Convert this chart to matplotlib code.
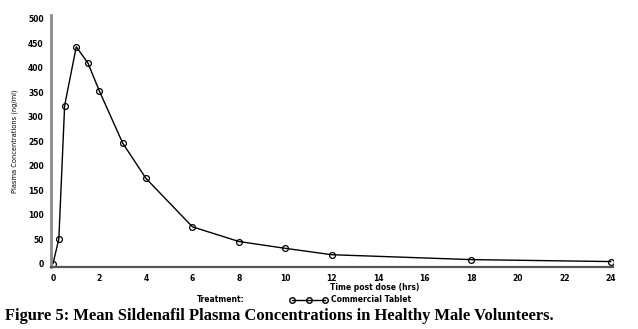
import matplotlib.pyplot as plt

# Mean plasma concentration profile (ng/ml) after a single oral dose
hours = [0, 0.25, 0.5, 1, 1.5, 2, 3, 4, 6, 8, 10, 12, 18, 24]
conc = [0, 50, 323, 443, 410, 352, 246, 174, 75, 45, 31, 18, 8, 4]

x_ticks = list(range(0, 25, 2))
y_ticks = list(range(0, 501, 50))

fig = plt.figure(figsize=(6.38, 3.29), dpi=100)
ax = fig.add_axes([50.7 / 638, 1 - 266.7 / 329, (613 - 50.7) / 638, (266.7 - 15) / 329])

ax.plot(hours, conc, color='black', lw=1.0, marker='o', markersize=4.2,
        markerfacecolor='none', markeredgecolor='black', markeredgewidth=0.9)

ax.set_xlim(-0.1, 24.1)
ax.set_ylim(-6.5, 508)
ax.set_xticks(x_ticks)
ax.set_yticks(y_ticks)
ax.tick_params(length=0, labelsize=5.5, pad=5)
for lab in ax.get_xticklabels() + ax.get_yticklabels():
    lab.set_fontweight('bold')

for side in ['top', 'right']:
    ax.spines[side].set_visible(False)
ax.spines['left'].set_color('#8a8a8a')
ax.spines['left'].set_linewidth(2)
ax.spines['bottom'].set_color('#555555')
ax.spines['bottom'].set_linewidth(1.6)

ax.set_ylabel('Plasma Concentrations (ng/ml)', fontsize=4.8)
ax.yaxis.set_label_coords((18 - 50.7) / 562.3, 0.5)
fig.text(330 / 638, 1 - 287 / 329, 'Time post dose (hrs)', fontsize=5.5,
         fontweight='bold', ha='left', va='center')

# legend row under the axis title
fig.text(245 / 638, 1 - 300 / 329, 'Treatment:', fontsize=5.5,
         fontweight='bold', ha='right', va='center')
fig.lines.append(plt.Line2D([292 / 638, 308.5 / 638, 325 / 638], [1 - 300 / 329] * 3,
                            transform=fig.transFigure, color='black', lw=1.0,
                            marker='o', markersize=4, markerfacecolor='none'))
fig.text(331 / 638, 1 - 300 / 329, 'Commercial Tablet', fontsize=5.5,
         fontweight='bold', ha='left', va='center')

fig.text(5 / 638, 1 - 316 / 329,
         'Figure 5: Mean Sildenafil Plasma Concentrations in Healthy Male Volunteers.',
         fontsize=11.9, fontweight='bold', family='Liberation Serif',
         ha='left', va='center')

fig.savefig('out.png', dpi=100)
